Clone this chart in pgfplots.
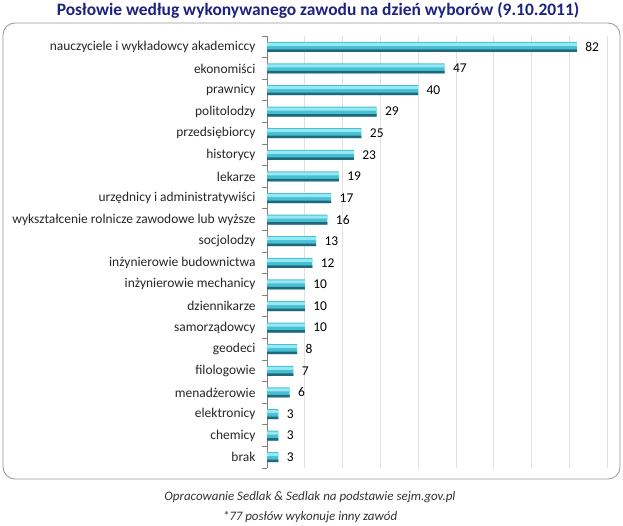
\documentclass[border=0pt]{standalone}
\usepackage{pgfplots}
\usepackage{pgfplotstable}
\pgfplotsset{compat=1.18}
\usepackage{fontspec}
\setmainfont{Carlito}
\definecolor{titleblue}{RGB}{28,34,128}
\definecolor{barlight}{RGB}{150,232,242}
\definecolor{barmid}{RGB}{72,192,212}
\definecolor{bardark}{RGB}{32,104,122}
\definecolor{gridc}{RGB}{225,225,225}
\definecolor{framec}{RGB}{150,150,150}
\pgfplotstableread{
v y
82 0
47 1
40 2
29 3
25 4
23 5
19 6
17 7
16 8
13 9
12 10
10 11
10 12
10 13
8 14
7 15
6 16
3 17
3 18
3 19
}\datatab
\begin{document}
\begin{tikzpicture}[x=1bp,y=1bp]
\useasboundingbox (0,0) rectangle (623,-526);
\node[font=\fontsize{17.5}{20}\selectfont\bfseries, text=titleblue] at (318,-11) {Posłowie według wykonywanego zawodu na dzień wyborów (9.10.2011)};
\draw[framec, line width=0.8bp, rounded corners=12bp] (3,-23) rectangle (620,-479);
\begin{axis}[
  at={(267bp,-468bp)}, anchor=south west,
  width=340bp, height=432bp, scale only axis,
  xmin=0, xmax=90,
  ymin=-0.5, ymax=19.5, y dir=reverse,
  xbar, bar width=10bp,
  axis lines*=left,
  separate axis lines,
  x axis line style={draw=none},
  y axis line style={draw=gray, line width=0.6bp},
  xtick={10,20,...,90}, xticklabels={},
  xtick style={draw=none},
  xmajorgrids, grid style={gridc, line width=0.6bp},
  major tick length=0bp,
  ytick={0,1,...,19},
  ytick style={draw=none},
  yticklabels={nauczyciele i wykładowcy  akademiccy, ekonomiści, prawnicy, politolodzy, przedsiębiorcy, historycy, lekarze, urzędnicy i administratywiści, wykształcenie rolnicze zawodowe lub wyższe, socjolodzy, inżynierowie budownictwa, inżynierowie mechanicy, dziennikarze, samorządowcy, geodeci, filologowie, menadżerowie, elektronicy, chemicy, brak},
  yticklabel style={font=\fontsize{13.5}{15}\selectfont, text=black!85, xshift=-8bp},
  /pgf/number format/assume math mode=true,
  clip=false,
]
\addplot[draw=none, fill=barmid, bar shift=0bp] table[x=v, y=y] {\datatab};
\addplot[draw=none, fill=barlight, bar width=3bp, bar shift=2.5bp] table[x=v, y=y] {\datatab};
\addplot[draw=none, fill=bardark, bar width=2.5bp, bar shift=-3.75bp] table[x=v, y=y] {\datatab};
\addplot[draw=none, fill=none, bar shift=0bp,
  nodes near coords,
  nodes near coords style={font=\fontsize{13.5}{15}\selectfont, text=black, anchor=west, xshift=5bp},
] table[x=v, y=y] {\datatab};
\pgfplotsinvokeforeach{-0.5,0.5,...,19.5}{
  \draw[gray, line width=0.7bp] (axis cs:0,#1) -- ([xshift=-5bp]axis cs:0,#1);
}
\end{axis}
\node[font=\fontsize{13}{15}\selectfont\itshape, text=black!80] at (310,-497) {Opracowanie Sedlak \& Sedlak na podstawie sejm.gov.pl};
\node[font=\fontsize{13}{15}\selectfont\itshape, text=black!80] at (310,-517) {*77 posłów wykonuje inny zawód};
\end{tikzpicture}
\end{document}
